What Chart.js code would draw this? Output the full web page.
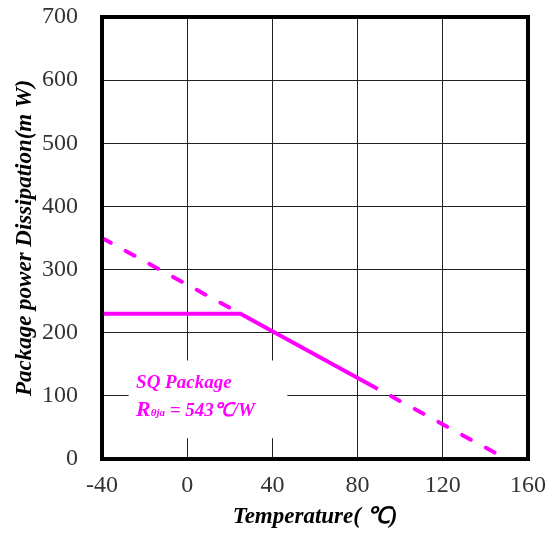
<!DOCTYPE html>
<html>
<head>
<meta charset="utf-8">
<script src="https://cdn.jsdelivr.net/npm/chart.js@4"></script>
<style>
html,body{margin:0;padding:0;background:#fff;}
#wrap{width:555px;height:536px;position:relative;}
</style>
</head>
<body>
<div id="wrap"><canvas id="c" width="555" height="536"></canvas></div>
<script>
// Data
const xTicks = [-40, 0, 40, 80, 120, 160];
const yTicks = [0, 100, 200, 300, 400, 500, 600, 700];
const derateSolidX = [-40, 25, 89.5];
const derateSolidY = [230, 230, 111];
const extendLeftX = [-40, 25];
const extendLeftY = [350, 230];
const extendRightX = [89.5, 146];
const extendRightY = [111, 7];
const noteLines = ["SQ Package", "543℃/W"];
const noteBox = { x0: -27.5, x1: 47, y0: 33, y1: 156 }; // data units
const lineColor = '#FF00FF';

function pts(xs, ys){ return xs.map((x,i)=>({x:x, y:ys[i]})); }

const framePlugin = {
  id: 'frame',
  beforeDatasetsDraw(chart){
    const {ctx, scales:{x, y}} = chart;
    const l = x.getPixelForValue(noteBox.x0), r = x.getPixelForValue(noteBox.x1);
    const t = y.getPixelForValue(noteBox.y1), b = y.getPixelForValue(noteBox.y0);
    ctx.save();
    ctx.fillStyle = '#fff';
    ctx.fillRect(l, t, r - l, b - t);
    ctx.restore();
  },
  afterDraw(chart){
    const {ctx, chartArea:a, scales:{x, y}} = chart;
    ctx.save();
    ctx.strokeStyle = '#000';
    ctx.lineWidth = 4;
    ctx.strokeRect(a.left, a.top, a.right - a.left, a.bottom - a.top);
    ctx.fillStyle = lineColor;
    ctx.textBaseline = 'alphabetic';
    ctx.textAlign = 'left';
    const tx = x.getPixelForValue(-24);
    ctx.font = 'italic bold 19px "Liberation Serif", serif';
    ctx.fillText(noteLines[0], tx, y.getPixelForValue(112));
    const by = y.getPixelForValue(68);
    ctx.font = 'italic bold 22px "Liberation Serif", serif';
    ctx.fillText('R', tx, by);
    let w = ctx.measureText('R').width;
    ctx.font = 'italic bold 11px "Liberation Serif", serif';
    ctx.fillText('θja', tx + w, by);
    w += ctx.measureText('θja').width;
    ctx.font = 'italic bold 19px "Liberation Serif", serif';
    ctx.fillText(' = ' + noteLines[1], tx + w, by);
    ctx.restore();
  }
};

const dashed = { showLine: true, borderColor: lineColor, borderWidth: 4, borderDash: [10, 17], borderCapStyle: 'round', pointRadius: 0, fill: false };

new Chart(document.getElementById('c'), {
  type: 'scatter',
  data: {
    datasets: [
      { data: pts(derateSolidX, derateSolidY), showLine: true, borderColor: lineColor, borderWidth: 4, pointRadius: 0, fill: false, borderCapStyle: 'butt' },
      Object.assign({ data: pts(extendLeftX, extendLeftY), borderDashOffset: 0 }, dashed),
      Object.assign({ data: pts(extendRightX, extendRightY), borderDashOffset: 12 }, dashed)
    ]
  },
  options: {
    responsive: false,
    animation: false,
    devicePixelRatio: 1,
    layout: { padding: { top: 17, right: 27, bottom: 0, left: 0 } },
    plugins: { legend: { display: false }, tooltip: { enabled: false } },
    scales: {
      x: {
        type: 'linear', min: -40, max: 160,
        afterBuildTicks(s){ s.ticks = xTicks.map(v=>({value:v})); },
        afterFit(s){ s.height = 77; s.paddingLeft = 0; s.paddingRight = 0; },
        grid: { color: '#222', lineWidth: 1, drawTicks: false },
        border: { display: false },
        ticks: { padding: 12, color: '#333', font: { family: '"Liberation Serif", serif', size: 24 } },
        title: { display: true, text: 'Temperature( ℃)', color: '#000', padding: { top: 0, bottom: 5 },
                 font: { family: '"Liberation Serif", serif', size: 23, style: 'italic', weight: 'bold' } }
      },
      y: {
        type: 'linear', min: 0, max: 700,
        afterBuildTicks(s){ s.ticks = yTicks.map(v=>({value:v})); },
        afterFit(s){ s.width = 102; s.paddingTop = 0; s.paddingBottom = 0; },
        grid: { color: '#222', lineWidth: 1, drawTicks: false },
        border: { display: false },
        ticks: { padding: 24, color: '#333', font: { family: '"Liberation Serif", serif', size: 24 } },
        title: { display: true, text: 'Package power Dissipation(m W)', color: '#000', padding: { top: 11, bottom: 0 },
                 font: { family: '"Liberation Serif", serif', size: 23, style: 'italic', weight: 'bold' } }
      }
    }
  },
  plugins: [framePlugin]
});
</script>
</body>
</html>
